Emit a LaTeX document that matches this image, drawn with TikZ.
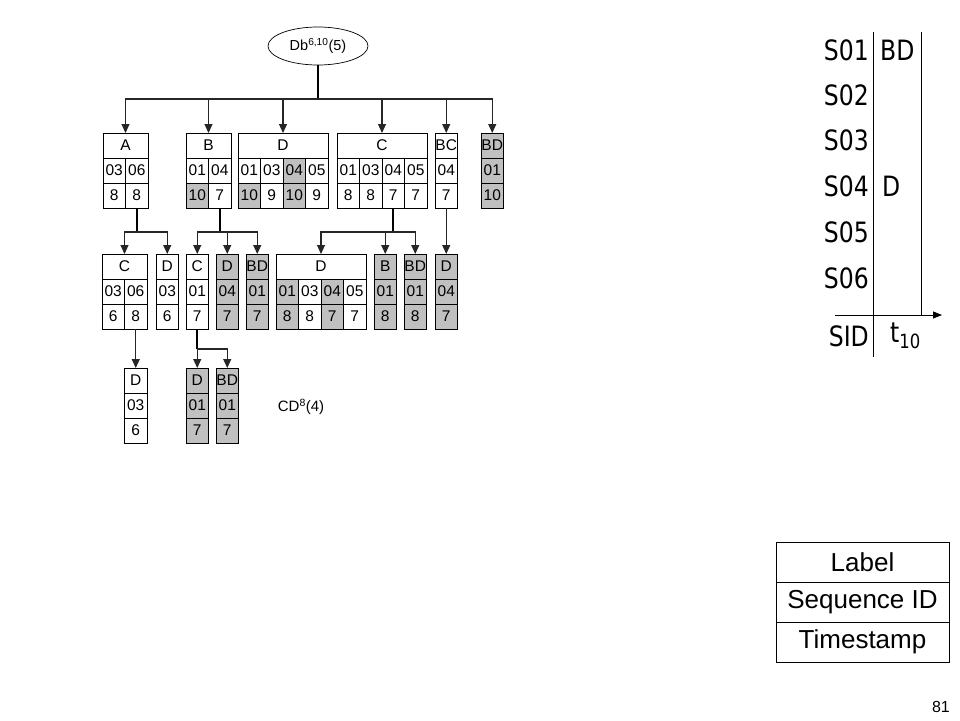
\documentclass[tikz,border=0pt]{standalone}
\usepackage{fontspec}
\setmainfont{Liberation Sans}
\newfontfamily\tahfont[FakeStretch=0.84]{DejaVu Sans}
\usepackage{tikz}
\usetikzlibrary{shapes.geometric, arrows.meta}

\definecolor{shade}{RGB}{192,192,192}
\newcommand{\cw}{22.5}
\newcommand{\rh}{25}
% name, x, y (top left), columns, label fill, label, sid/time/sidfill/timefill
\newcommand{\recbox}[7]{%
  \node[cell, fill=#5, minimum width={#4*\cw*1pt}, anchor=north west] (#1) at (#2,#3) {#6};
  \foreach \sid/\tim/\fsid/\ftim [count=\i] in {#7} {
    \node[cell, fill=\fsid, anchor=north west] (#1-s\i) at ({#2+(\i-1)*\cw},{#3+\rh}) {\sid};
    \node[cell, fill=\ftim, anchor=north west] (#1-t\i) at ({#2+(\i-1)*\cw},{#3+2*\rh}) {\tim};
  }%
}

\tikzset{
  cell/.style={draw, line width=0.7pt, inner sep=0pt, outer sep=0pt,
    minimum width={\cw*1pt}, minimum height={\rh*1pt}, font=\fontsize{15.5}{15.5}\selectfont},
  root/.style={draw, ellipse, line width=0.7pt, minimum width=100pt, minimum height=38pt,
    inner sep=0pt, font=\fontsize{14.5}{14.5}\selectfont},
  stem/.style={line width=1.8pt},
  bus/.style={line width=1.1pt, black!85, -{Triangle[length=9pt,width=8pt]}},
  sid/.style={inner sep=0pt, font=\tahfont\fontsize{28}{28}\selectfont},
  legend/.style={draw, line width=0.7pt, minimum width=173pt, minimum height=40pt,
    inner sep=0pt, outer sep=0pt, font=\fontsize{26}{26}\selectfont}
}

\begin{document}
\begin{tikzpicture}[x=1pt, y=-1pt]
  \useasboundingbox (0,0) rectangle (960,720);

  % root
  \node[root] (db) at (318,46) {Db\textsuperscript{6,10}(5)};
  \coordinate (dbj) at (318,99);
  \draw[stem] (db) -- (dbj);

  % first level
  \recbox{nA}{103}{133}{2}{white}{A}{03/8/white/white, 06/8/white/white}
  \recbox{nB}{186}{133}{2}{white}{B}{01/10/white/shade, 04/7/white/white}
  \recbox{nD}{238}{133}{4}{white}{D}{01/10/white/shade, 03/9/white/white, 04/10/shade/shade, 05/9/white/white}
  \recbox{nC}{337}{133}{4}{white}{C}{01/8/white/white, 03/8/white/white, 04/7/white/white, 05/7/white/white}
  \recbox{nBC}{435}{133}{1}{white}{BC}{04/7/white/white}
  \recbox{nBD}{481}{133}{1}{shade}{BD}{01/10/shade/shade}

  \foreach \n in {nA,nB,nD,nC,nBC,nBD}
    \draw[bus] (dbj) -| (\n.north);

  % second level
  \recbox{nA-C}{102}{254}{2}{white}{C}{03/6/white/white, 06/8/white/white}
  \recbox{nA-D}{156}{254}{1}{white}{D}{03/6/white/white}
  \recbox{nB-C}{186}{254}{1}{white}{C}{01/7/white/white}
  \recbox{nB-D}{216}{254}{1}{shade}{D}{04/7/shade/shade}
  \recbox{nB-BD}{246}{254}{1}{shade}{BD}{01/7/shade/shade}
  \recbox{nC-D}{276}{254}{4}{white}{D}{01/8/shade/shade, 03/8/white/white, 04/7/shade/shade, 05/7/white/white}
  \recbox{nC-B}{374}{254}{1}{shade}{B}{01/8/shade/shade}
  \recbox{nC-BD}{404}{254}{1}{shade}{BD}{01/8/shade/shade}
  \recbox{nBC-D}{435}{254}{1}{shade}{D}{04/7/shade/shade}

  \coordinate (jA) at (136.75,232);
  \coordinate (jB) at (219.75,232);
  \coordinate (jC) at (393.25,232);
  \draw[stem] (nA-t2) -- (jA);
  \draw[stem] (nB-t2) -- (jB);
  \draw[stem] (nC-t3) -- (jC);
  \draw[bus] (jA) -| (nA-C.north);
  \draw[bus] (jA) -| (nA-D.north);
  \draw[bus] (jB) -| (nB-C.north);
  \draw[bus] (jB) -| (nB-D.north);
  \draw[bus] (jB) -| (nB-BD.north);
  \draw[bus] (jC) -| (nC-D.north);
  \draw[bus] (jC) -| (nC-B.north);
  \draw[bus] (jC) -| (nC-BD.north);
  \draw[bus] (nBC-t1) -- (nBC-D);

  % third level
  \recbox{nA-C-D}{124.5}{368}{1}{white}{D}{03/6/white/white}
  \recbox{nB-C-D}{186}{368}{1}{shade}{D}{01/7/shade/shade}
  \recbox{nB-C-BD}{216}{368}{1}{shade}{BD}{01/7/shade/shade}

  \coordinate (jBC) at (197.25,349);
  \draw[bus] (nA-C-t2) -- (nA-C-D);
  \draw[stem] (nB-C-t1) -- (jBC);
  \draw[bus] (jBC) -- (nB-C-D);
  \draw[bus] (jBC) -| (nB-C-BD.north);

  \node[font=\fontsize{15}{15}\selectfont] (cd) at (301,407) {CD\textsuperscript{8}(4)};

  % sequence table
  \coordinate (ax0) at (835,315);
  \coordinate (ax1) at (942,315);
  \coordinate (va0) at (873,32);
  \coordinate (va1) at (873,357);
  \coordinate (vb0) at (921,32);
  \coordinate (vb1) at (921,315);
  \draw[line width=0.8pt] (va0) -- (va1);
  \draw[line width=0.8pt] (vb0) -- (vb1);
  \draw[line width=0.8pt, -{Triangle[length=9pt,width=7pt]}] (ax0) -- (ax1);

  \node[sid, anchor=east] (s01) at (869,50) {S01};
  \node[sid, anchor=east] (s02) at (869,95) {S02};
  \node[sid, anchor=east] (s03) at (869,140) {S03};
  \node[sid, anchor=east] (s04) at (869,186) {S04};
  \node[sid, anchor=east] (s05) at (869,232) {S05};
  \node[sid, anchor=east] (s06) at (869,278) {S06};
  \node[sid, anchor=east] (sidh) at (869,336) {SID};
  \node[sid, anchor=west] (e01) at (880,50) {BD};
  \node[sid, anchor=west] (e04) at (882,186) {D};
  \node[sid, anchor=west] (t10) at (890,336) {t\textsubscript{10}};

  % legend
  \node[legend] (lab) at (862.5,562) {Label};
  \node[legend] (seq) at (862.5,602) {Sequence ID};
  \node[legend] (tsp) at (862.5,642) {Timestamp};

  \node[anchor=east, inner sep=0pt, font=\fontsize{16}{16}\selectfont] (pg) at (950,707) {81};
\end{tikzpicture}
\end{document}
